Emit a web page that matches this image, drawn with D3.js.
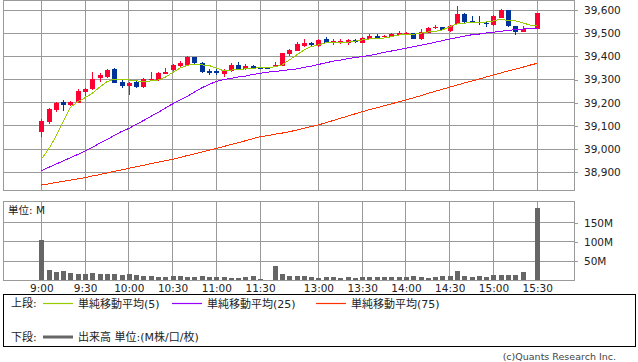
<!DOCTYPE html>
<html><head><meta charset="utf-8">
<script src="https://cdn.jsdelivr.net/npm/d3@7"></script>
<style>
body{margin:0;background:#fff}
svg{display:block}
text{font-family:"DejaVu Sans","Noto Sans CJK JP",sans-serif}
</style>
</head><body>
<svg id="c" width="638" height="362"></svg>
<script>
// ---------- data ----------
const timeLabels = ["9:00","9:30","10:00","10:30","11:00","11:30","13:00","13:30","14:00","14:30","15:00","15:30"];
const labelSlots = [0,6,12,18,24,30,38,44,50,56,62,68];
const priceTicks = [38900,39000,39100,39200,39300,39400,39500,39600];
const volumeTicks = [50,100,150];

const open = [39072,39116,39169,39203,39190,39200,39248,39258,39308,39310,39346,39291,39274,39291,39269,39298,39298,39324,39341,39360,39364,39396,39373,39338,39336,39325,39337,39363,39346,39357,39351,39351,39358,39360,39410,39424,39446,39456,39445,39475,39461,39461,39459,39471,39459,39475,39489,39482,39484,39493,39498,39500,39475,39502,39522,39525,39509,39540,39581,39553,39550,39545,39535,39567,39600,39531,39505,null,39518];
const high = [39130,39179,39204,39212,39208,39259,39262,39334,39330,39344,39350,39301,39291,39294,39305,39334,39333,39351,39366,39381,39402,39399,39374,39346,39346,39346,39370,39376,39367,39363,39351,39351,39376,39416,39433,39461,39474,39463,39474,39484,39475,39475,39475,39475,39482,39496,39495,39493,39502,39509,39505,39502,39517,39525,39534,39528,39534,39619,39588,39575,39575,39550,39578,39604,39600,39531,39531,null,39586];
const low = [39054,39108,39161,39166,39186,39198,39229,39255,39291,39305,39284,39262,39233,39265,39265,39295,39294,39324,39338,39351,39363,39367,39327,39320,39320,39312,39334,39341,39341,39346,39347,39347,39358,39358,39402,39423,39442,39439,39442,39456,39450,39452,39450,39456,39456,39474,39478,39478,39482,39491,39491,39474,39471,39500,39517,39514,39506,39538,39543,39545,39535,39528,39532,39564,39528,39493,39505,null,39518];
const close = [39121,39173,39198,39190,39203,39251,39259,39301,39320,39341,39286,39272,39284,39269,39301,39302,39330,39334,39363,39370,39396,39370,39334,39330,39328,39338,39363,39344,39358,39350,39347,39347,39363,39413,39427,39452,39456,39449,39471,39459,39465,39465,39471,39463,39481,39489,39479,39488,39495,39502,39501,39475,39504,39522,39528,39514,39531,39583,39550,39547,39543,39538,39574,39600,39531,39506,39517,null,39586];

const ma5 = [38956,39000,39054,39118,39180,39204,39222,39241,39267,39291,39301,39302,39298,39295,39291,39294,39298,39310,39330,39349,39361,39367,39363,39361,39349,39338,39341,39343,39346,39349,39351,39351,39355,39363,39384,39406,39427,39442,39449,39459,39461,39461,39461,39465,39471,39475,39478,39479,39485,39492,39495,39495,39500,39505,39508,39514,39528,39540,39543,39547,39548,39548,39553,39560,39554,39553,39545,39535,39535];
const ma25 = [38907,38921,38935,38949,38963,38977,38992,39008,39025,39041,39059,39076,39089,39106,39123,39141,39158,39177,39195,39212,39227,39246,39264,39279,39292,39300,39305,39311,39315,39322,39327,39332,39334,39339,39342,39346,39352,39358,39365,39372,39379,39384,39390,39395,39399,39404,39410,39417,39423,39429,39435,39441,39448,39454,39461,39468,39475,39481,39487,39493,39496,39501,39504,39508,39512,39515,39518,39520,39522];
const ma75 = [38845,38850,38856,38861,38866,38872,38877,38884,38890,38897,38904,38910,38917,38924,38930,38937,38943,38950,38956,38964,38972,38979,38987,38995,39003,39011,39020,39028,39036,39045,39053,39058,39064,39069,39075,39082,39090,39097,39104,39114,39123,39133,39142,39152,39161,39170,39178,39187,39195,39204,39212,39221,39230,39240,39249,39258,39267,39276,39285,39293,39302,39311,39320,39328,39337,39345,39353,39362,39370];

const volume = [104,27,21,24,18,16,16,18,16,16,16,14,16,15,10,12,8,8,10,10,8,8,12,8,8,8,5,5,9,10,3,0,37,16,10,10,10,8,6,8,8,5,8,5,8,8,8,8,8,8,8,10,8,5,8,10,10,23,10,8,10,8,13,13,15,15,21,0,188];

const legendTop = [
  {label:"単純移動平均(5)", color:"#99cc00"},
  {label:"単純移動平均(25)", color:"#9900ff"},
  {label:"単純移動平均(75)", color:"#ff3300"}
];

// ---------- layout ----------
const svg = d3.select("#c");
const L = 3, R = 574;
const mainTop = 0, mainBot = 190;
const volTop = 201, volBot = 280;
const gridColor = "#9a9a9a";
const upColor = "#ff0033", downColor = "#003399";

const slots = d3.range(open.length);
const x = d3.scaleLinear().domain([0, 68]).range([41.3, 537.2]);
const yP = d3.scaleLinear().domain([38900, 39600]).range([172.3, 10]);
const yV = d3.scaleLinear().domain([0, 150]).range([280.3, 222.7]);

// ---------- main panel grid ----------
const gMain = svg.append("g").attr("shape-rendering","crispEdges");
gMain.selectAll("line.h").data(priceTicks).join("line")
  .attr("x1", L).attr("x2", R).attr("y1", d => yP(d)).attr("y2", d => yP(d))
  .attr("stroke", gridColor);
gMain.selectAll("line.v").data(labelSlots).join("line")
  .attr("x1", d => x(d)).attr("x2", d => x(d)).attr("y1", mainTop).attr("y2", mainBot)
  .attr("stroke", gridColor);
gMain.append("rect").attr("x", L + 0.5).attr("y", mainTop + 0.5)
  .attr("width", R - L).attr("height", mainBot - mainTop)
  .attr("fill", "none").attr("stroke", gridColor);

// price axis
const pAxis = svg.append("g").attr("transform", `translate(${R},0)`)
  .call(d3.axisRight(yP).tickValues(priceTicks).tickSize(4).tickPadding(6).tickFormat(d3.format(",")));
pAxis.select(".domain").remove();
pAxis.selectAll("line").attr("stroke", gridColor).attr("shape-rendering","crispEdges");
pAxis.selectAll("text").attr("font-size", 10.5).attr("fill", "#222")
  .attr("font-family", "DejaVu Sans");

// ---------- candles ----------
const candleData = slots.filter(i => open[i] !== null);
const gC = svg.append("g").attr("shape-rendering","crispEdges");
gC.selectAll("line.w").data(candleData).join("line")
  .attr("x1", i => Math.round(x(i)) + 0.5).attr("x2", i => Math.round(x(i)) + 0.5)
  .attr("y1", i => yP(high[i])).attr("y2", i => yP(low[i]))
  .attr("stroke", i => close[i] >= open[i] ? upColor : downColor);
gC.selectAll("rect.b").data(candleData).join("rect")
  .attr("x", i => Math.round(x(i)) - 2)
  .attr("width", 5)
  .attr("y", i => yP(Math.max(open[i], close[i])))
  .attr("height", i => Math.max(1.2, Math.abs(yP(open[i]) - yP(close[i]))))
  .attr("fill", i => close[i] >= open[i] ? upColor : downColor);

// ---------- moving averages ----------
const line = arr => d3.line().x(i => x(i)).y(i => yP(arr[i]))(slots);
[[ma75,"#ff3300"],[ma25,"#9900ff"],[ma5,"#99cc00"]].forEach(([arr,col]) => {
  svg.append("path").attr("d", line(arr)).attr("fill","none")
    .attr("stroke", col).attr("stroke-width", 1).attr("shape-rendering","crispEdges");
});

// ---------- volume panel ----------
const gVol = svg.append("g").attr("shape-rendering","crispEdges");
gVol.selectAll("line.h").data(volumeTicks).join("line")
  .attr("x1", L).attr("x2", R).attr("y1", d => yV(d)).attr("y2", d => yV(d))
  .attr("stroke", gridColor);
gVol.selectAll("line.v").data(labelSlots).join("line")
  .attr("x1", d => x(d)).attr("x2", d => x(d)).attr("y1", volTop).attr("y2", volBot)
  .attr("stroke", gridColor);
gVol.append("rect").attr("x", L + 0.5).attr("y", volTop + 0.5)
  .attr("width", R - L).attr("height", volBot - volTop)
  .attr("fill", "none").attr("stroke", gridColor);
gVol.selectAll("rect.v").data(slots.filter(i => volume[i] > 0)).join("rect")
  .attr("x", i => Math.round(x(i)) - 2).attr("width", 5)
  .attr("y", i => yV(volume[i])).attr("height", i => yV(0) - yV(volume[i]))
  .attr("fill", "#666");

const vAxis = svg.append("g").attr("transform", `translate(${R},0)`)
  .call(d3.axisRight(yV).tickValues(volumeTicks).tickSize(4).tickPadding(6).tickFormat(d => d + "M"));
vAxis.select(".domain").remove();
vAxis.selectAll("line").attr("stroke", gridColor).attr("shape-rendering","crispEdges");
vAxis.selectAll("text").attr("font-size", 10.5).attr("fill", "#222").attr("font-family","DejaVu Sans");

svg.append("text").attr("x", 8).attr("y", 213.5).attr("font-size", 10.5).attr("fill","#222").text("単位: M");

// time axis
const tAxis = svg.append("g").attr("transform", `translate(0,${volBot})`)
  .call(d3.axisBottom(x).tickValues(labelSlots).tickSize(0).tickPadding(5)
    .tickFormat((d, i) => timeLabels[i]));
tAxis.select(".domain").remove();
tAxis.selectAll("text").attr("font-size", 10.5).attr("fill", "#222").attr("font-family","DejaVu Sans");

// ---------- legend ----------
svg.append("rect").attr("x", 3.5).attr("y", 294.5).attr("width", 632).attr("height", 52)
  .attr("fill","none").attr("stroke","#000").attr("shape-rendering","crispEdges");
svg.append("text").attr("x", 11).attr("y", 307).attr("font-size", 11).attr("fill","#222").text("上段:");
const legX = [43, 172, 316];
legendTop.forEach((d, k) => {
  svg.append("line").attr("x1", legX[k]).attr("x2", legX[k] + 30).attr("y1", 303.5).attr("y2", 303.5)
    .attr("stroke", d.color).attr("stroke-width", 1.2);
  svg.append("text").attr("x", legX[k] + 35).attr("y", 307.5).attr("font-size", 11).attr("fill","#222").text(d.label);
});
svg.append("text").attr("x", 11).attr("y", 341).attr("font-size", 11).attr("fill","#222").text("下段:");
svg.append("line").attr("x1", 43).attr("x2", 73).attr("y1", 337).attr("y2", 337)
  .attr("stroke", "#666").attr("stroke-width", 3);
svg.append("text").attr("x", 78).attr("y", 341).attr("font-size", 11).attr("fill","#222").text("出来高 単位:(M株/口/枚)");

svg.append("text").attr("x", 616).attr("y", 359.5).attr("text-anchor","end")
  .attr("font-size", 9.5).attr("fill","#444").text("(c)Quants Research Inc.");
</script>
</body></html>
